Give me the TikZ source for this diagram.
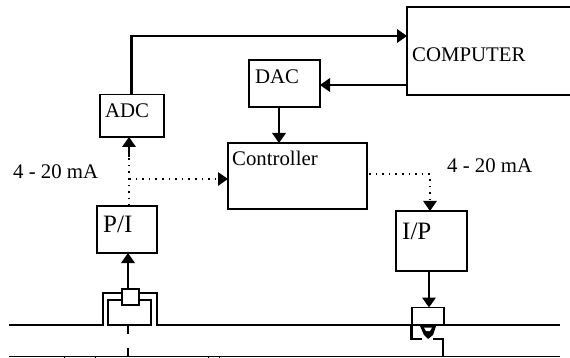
\documentclass[tikz,border=0pt]{standalone}
\usepackage{fontspec}
\setmainfont{Liberation Serif}
\usetikzlibrary{positioning, arrows.meta}
\tikzset{
	>={Triangle[length=10pt,width=13.5pt]}, % arrow heads
	x=1pt, y=-1pt,
	block/.style={draw, line width=1.8pt, outer sep=0pt, inner sep=0pt, anchor=north west},
	wire/.style={->, line width=2pt},
	sigline/.style={line width=1.3pt, dash pattern=on 1.6pt off 5pt},
	pipe/.style={line width=1.6pt},
	lbl/.style={font=\fontsize{20.8}{22}\selectfont, inner sep=0pt, anchor=base west},
	biglbl/.style={lbl, font=\fontsize{25}{27}\selectfont},
}
\begin{document}
\begin{tikzpicture}
	\clip (0,0) rectangle (570,358);
	\fill[white] (0,0) rectangle (570,358);
	% blocks
	\node[block, minimum width=175pt, minimum height=88pt] (computer) at (407,7) {};
	\node[lbl] (computerlbl) at (412,62) {COMPUTER};
	\node[block, minimum width=64pt, minimum height=42.5pt] (adc) at (100,94.5) {};
	\node[lbl] (adclbl) at (105,118) {ADC};
	\node[block, minimum width=71pt, minimum height=47pt] (dac) at (249,60) {};
	\node[lbl] (daclbl) at (255,84) {DAC};
	\node[block, minimum width=139pt, minimum height=66pt] (ctrl) at (228,143) {};
	\node[lbl] (ctrllbl) at (232,166) {Controller};
	\node[block, minimum width=60pt, minimum height=47pt] (pi) at (97,206) {};
	\node[biglbl] (pilbl) at (103,233) {P/I};
	\node[block, minimum width=71pt, minimum height=60pt] (ip) at (396,211) {};
	\node[biglbl] (iplbl) at (402,240) {I/P};
	\node[lbl] (maleft) at (13,179) {4 - 20 mA};
	\node[lbl] (maright) at (447,173) {4 - 20 mA};
	% transmitter on the pipe
	\node[block, minimum width=17pt, minimum height=16pt, fill=white] (sensor) at (122,289) {};
	\coordinate (sensortail) at (128,334);
	\coordinate (leadtop) at (128,348);
	\coordinate (pipeleft) at (9,325);
	\coordinate (piperight) at (560,325);
	\draw[pipe] (pipeleft) -- (103,325) -- (103,293) -- (sensor.west |- 0,293);
	\draw[pipe] (sensor.east |- 0,293) -- (157,293) -- (157,325) -- (piperight);
	\draw[pipe] (sensor.west |- 0,300) -- (108,300) -- (108,325) -- (151,325) -- (151,300) -- (sensor.east |- 0,300);
	\draw[pipe] (128,325) -- (sensortail);
	\draw[pipe] (leadtop) -- (128,356);
	% valve
	\node[block, minimum width=32pt, minimum height=18pt] (valve) at (412,307.5) {};
	\draw[line width=2.4pt] (411.5,326) -- (411.5,339) -- (422,339);
	\draw[pipe] (433,339) -- (443,339) -- (443,356);
	\fill (420,326) -- (436,326) -- (433,335) -- (428,339) -- (424,335) -- cycle;
	\fill[white] (424,327.5) -- (432,327.5) -- (430,331) -- (426,331) -- cycle;
	% bottom line
	\coordinate (baseleft) at (9,356);
	\coordinate (baseright) at (560,356);
	\draw[line width=1pt] (baseleft) -- (baseright);
	\foreach \tickx in {64,95,208,219}
		\draw[line width=0.8pt] (\tickx,356) -- (\tickx,358);
	% connectors
	\draw[line width=3pt] (adc.north -| 131,0) -- (131,35);
	\draw[wire] (129.5,36) -- (computer.west |- 0,36);
	\draw[wire] (computer.west |- 0,85) -- (dac.east |- 0,85);
	\draw[wire] (dac.south -| 279,0) -- (ctrl.north -| 279,0);
	\draw[wire] (sensor.north -| 128,0) -- (pi.south -| 128,0);
	\draw[wire] (129,157) -- (adc.south -| 129,0);
	\draw[sigline] (pi.north -| 129,0) -- (129,157);
	\draw[sigline, ->] (129,179) -- (ctrl.west |- 0,179);
	\draw[sigline, ->] (369,174) -- (430,174) -- (ip.north -| 430,0);
	\draw[wire] (ip.south -| 429,0) -- (valve.north -| 429,0);
\end{tikzpicture}
\end{document}
